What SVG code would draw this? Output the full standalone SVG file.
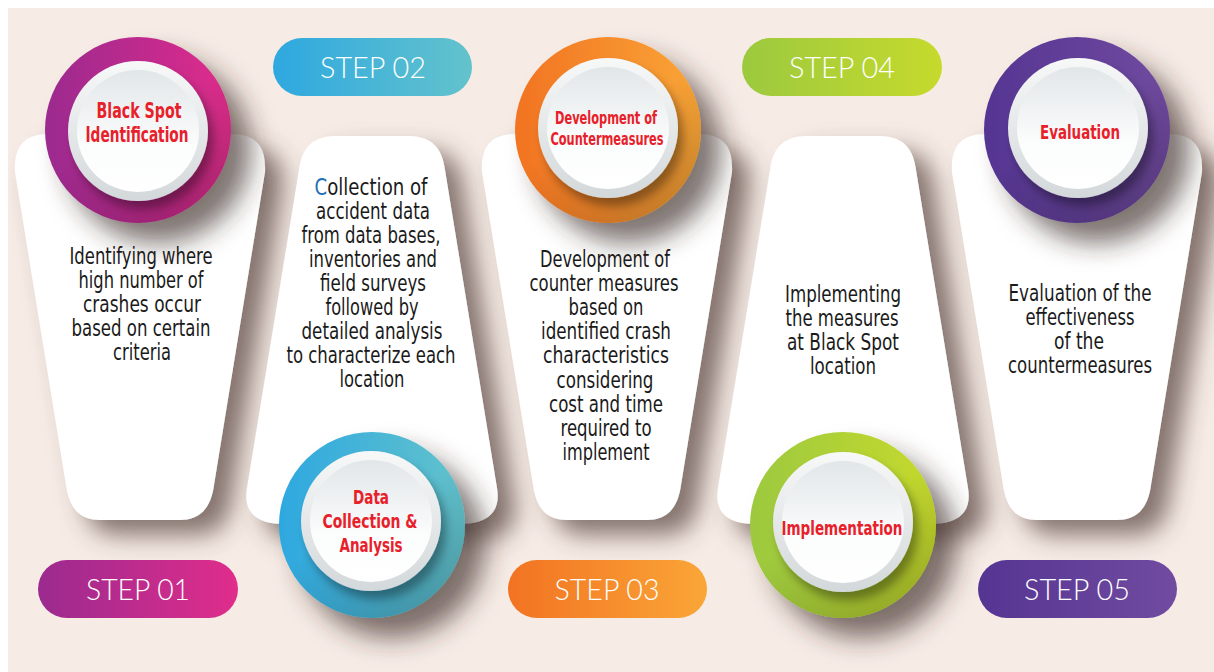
<svg xmlns="http://www.w3.org/2000/svg" width="1214" height="672" viewBox="0 0 1214 672">
<style>
.body{font-family:"Liberation Sans Narrow","DejaVu Sans Condensed","Liberation Sans",sans-serif;font-size:22.5px;fill:#1a1a1a;text-anchor:middle}
.lbl{font-family:"Liberation Sans Narrow","DejaVu Sans Condensed","Liberation Sans",sans-serif;font-weight:bold;fill:#e8202a;text-anchor:middle}
.step{font-family:Lato,"Open Sans","Liberation Sans",sans-serif;font-weight:300;font-size:30px;fill:#ffffff;text-anchor:middle}
.card{fill:#ffffff;filter:url(#cardShadow)}
.rim{fill:url(#rimG);filter:url(#discShadow)}
.disc{fill:url(#discG)}
.shade{fill:url(#shadeG)}
</style>
<defs>
<filter id="cardShadow" x="-30%" y="-20%" width="170%" height="150%">
<feGaussianBlur in="SourceAlpha" stdDeviation="12"/>
<feOffset dx="18" dy="15" result="b"/>
<feFlood flood-color="#54403b" flood-opacity="0.7"/>
<feComposite in2="b" operator="in"/>
<feMerge><feMergeNode/><feMergeNode in="SourceGraphic"/></feMerge>
</filter>
<filter id="ringShadow" x="-40%" y="-40%" width="190%" height="190%">
<feGaussianBlur in="SourceAlpha" stdDeviation="13"/>
<feOffset dx="20" dy="20" result="b"/>
<feFlood flood-color="#3a2a26" flood-opacity="0.65"/>
<feComposite in2="b" operator="in"/>
<feMerge><feMergeNode/><feMergeNode in="SourceGraphic"/></feMerge>
</filter>
<filter id="discShadow" x="-30%" y="-30%" width="170%" height="170%">
<feGaussianBlur in="SourceAlpha" stdDeviation="5"/>
<feOffset dx="5" dy="8" result="b"/>
<feFlood flood-color="#000000" flood-opacity="0.35"/>
<feComposite in2="b" operator="in"/>
<feMerge><feMergeNode/><feMergeNode in="SourceGraphic"/></feMerge>
</filter>
<linearGradient id="rimG" x1="0" y1="0" x2="0" y2="1">
<stop offset="0" stop-color="#f7f8f8"/><stop offset="1" stop-color="#d3d8da"/>
</linearGradient>
<linearGradient id="discG" x1="0" y1="0" x2="0" y2="1">
<stop offset="0" stop-color="#e1e6e8"/><stop offset="0.6" stop-color="#fbfcfc"/><stop offset="1" stop-color="#ffffff"/>
</linearGradient>
<linearGradient id="shadeG" x1="0.2" y1="0" x2="0.8" y2="1">
<stop offset="0.45" stop-color="#000" stop-opacity="0"/><stop offset="1" stop-color="#000" stop-opacity="0.22"/>
</linearGradient>
<linearGradient id="g1" x1="0" y1="0" x2="1" y2="0"><stop offset="0" stop-color="#9b2a8f"/><stop offset="1" stop-color="#e02d8b"/></linearGradient>
<linearGradient id="g2" x1="0" y1="0" x2="1" y2="0"><stop offset="0" stop-color="#2ea8e0"/><stop offset="1" stop-color="#63c3cc"/></linearGradient>
<linearGradient id="g3" x1="0" y1="0" x2="1" y2="0"><stop offset="0" stop-color="#f27322"/><stop offset="1" stop-color="#faa637"/></linearGradient>
<linearGradient id="g4" x1="0" y1="0" x2="1" y2="0"><stop offset="0" stop-color="#9cc93f"/><stop offset="1" stop-color="#c6da2c"/></linearGradient>
<linearGradient id="g5" x1="0" y1="0" x2="1" y2="0"><stop offset="0" stop-color="#553592"/><stop offset="1" stop-color="#714ba0"/></linearGradient>
</defs>

<rect width="1214" height="672" fill="#ffffff"/>
<rect x="8" y="8" width="1206" height="664" fill="#f6ebe5"/>

<!-- cards -->
<g id="card1"><path class="card" d="M50,134 L230,134 C258,134 266,148 265,172 L214,485 C211,508 200,520 180,520 L100,520 C80,520 69,508 66,485 L15,172 C14,148 22,134 50,134 Z"/></g>
<g id="card2"><path class="card" d="M337,136 L407,136 C430,136 442,146 445,170 L497,488 C501,512 488,524 460,524 L284,524 C256,524 243,512 247,488 L299,170 C302,146 314,136 337,136 Z"/></g>
<g id="card3"><path class="card" d="M517,134 L697,134 C725,134 733,148 732,172 L681,485 C678,508 667,520 647,520 L567,520 C547,520 536,508 533,485 L482,172 C481,148 489,134 517,134 Z"/></g>
<g id="card4"><path class="card" d="M808,136 L878,136 C901,136 913,146 916,170 L968,488 C972,512 959,524 931,524 L755,524 C727,524 714,512 718,488 L770,170 C773,146 785,136 808,136 Z"/></g>
<g id="card5"><path class="card" d="M987,134 L1167,134 C1195,134 1203,148 1202,172 L1151,485 C1148,508 1137,520 1117,520 L1037,520 C1017,520 1006,508 1003,485 L952,172 C951,148 959,134 987,134 Z"/></g>

<!-- card texts -->
<g id="text1" class="body">
<text x="141" y="264" textLength="143" lengthAdjust="spacingAndGlyphs">Identifying where</text>
<text x="141" y="288" textLength="125" lengthAdjust="spacingAndGlyphs">high number of</text>
<text x="142" y="312" textLength="118" lengthAdjust="spacingAndGlyphs">crashes occur</text>
<text x="141" y="336" textLength="139" lengthAdjust="spacingAndGlyphs">based on certain</text>
<text x="142" y="360" textLength="58" lengthAdjust="spacingAndGlyphs">criteria</text>
</g>
<g id="text2" class="body">
<text x="371" y="195" textLength="113" lengthAdjust="spacingAndGlyphs"><tspan fill="#1f6fb6">C</tspan>ollection of</text>
<text x="373" y="219" textLength="114" lengthAdjust="spacingAndGlyphs">accident data</text>
<text x="371" y="243" textLength="139" lengthAdjust="spacingAndGlyphs">from data bases,</text>
<text x="373" y="267" textLength="128" lengthAdjust="spacingAndGlyphs">inventories and</text>
<text x="373" y="291" textLength="106" lengthAdjust="spacingAndGlyphs">field surveys</text>
<text x="372" y="315" textLength="93" lengthAdjust="spacingAndGlyphs">followed by</text>
<text x="372" y="339" textLength="141" lengthAdjust="spacingAndGlyphs">detailed analysis</text>
<text x="371" y="363" textLength="169" lengthAdjust="spacingAndGlyphs">to characterize each</text>
<text x="372" y="387" textLength="65" lengthAdjust="spacingAndGlyphs">location</text>
</g>
<g id="text3" class="body">
<text x="605" y="267" textLength="130" lengthAdjust="spacingAndGlyphs">Development of</text>
<text x="604" y="291" textLength="149" lengthAdjust="spacingAndGlyphs">counter measures</text>
<text x="606" y="315" textLength="75" lengthAdjust="spacingAndGlyphs">based on</text>
<text x="606" y="339" textLength="130" lengthAdjust="spacingAndGlyphs">identified crash</text>
<text x="606" y="363" textLength="126" lengthAdjust="spacingAndGlyphs">characteristics</text>
<text x="605" y="388" textLength="97" lengthAdjust="spacingAndGlyphs">considering</text>
<text x="606" y="412" textLength="114" lengthAdjust="spacingAndGlyphs">cost and time</text>
<text x="606" y="436" textLength="91" lengthAdjust="spacingAndGlyphs">required to</text>
<text x="606" y="460" textLength="87" lengthAdjust="spacingAndGlyphs">implement</text>
</g>
<g id="text4" class="body">
<text x="843" y="302" textLength="116" lengthAdjust="spacingAndGlyphs">Implementing</text>
<text x="842" y="326" textLength="113" lengthAdjust="spacingAndGlyphs">the measures</text>
<text x="843" y="350" textLength="112" lengthAdjust="spacingAndGlyphs">at Black Spot</text>
<text x="843" y="374" textLength="66" lengthAdjust="spacingAndGlyphs">location</text>
</g>
<g id="text5" class="body">
<text x="1080" y="301" textLength="143" lengthAdjust="spacingAndGlyphs">Evaluation of the</text>
<text x="1080" y="325" textLength="109" lengthAdjust="spacingAndGlyphs">effectiveness</text>
<text x="1079" y="349" textLength="50" lengthAdjust="spacingAndGlyphs">of the</text>
<text x="1080" y="373" textLength="144" lengthAdjust="spacingAndGlyphs">countermeasures</text>
</g>

<!-- circles -->
<g id="circle1">
<circle cx="138" cy="130" r="93" fill="url(#g1)" filter="url(#ringShadow)"/>
<circle cx="138" cy="130" r="93" class="shade"/>
<circle cx="138" cy="131" r="70" class="rim"/>
<circle cx="138" cy="131" r="61" class="disc"/>
<text class="lbl" x="139" y="118" font-size="20.5" textLength="85" lengthAdjust="spacingAndGlyphs">Black Spot</text>
<text class="lbl" x="137" y="142" font-size="20.5" textLength="103" lengthAdjust="spacingAndGlyphs">Identification</text>
</g>
<g id="circle2">
<circle cx="372" cy="525" r="93" fill="url(#g2)" filter="url(#ringShadow)"/>
<circle cx="372" cy="525" r="93" class="shade"/>
<circle cx="371" cy="521" r="70" class="rim"/>
<circle cx="371" cy="521" r="61" class="disc"/>
<text class="lbl" x="371" y="504" font-size="19.5" textLength="36" lengthAdjust="spacingAndGlyphs">Data</text>
<text class="lbl" x="370" y="528" font-size="19.5" textLength="95" lengthAdjust="spacingAndGlyphs">Collection &amp;</text>
<text class="lbl" x="371" y="552" font-size="19.5" textLength="63" lengthAdjust="spacingAndGlyphs">Analysis</text>
</g>
<g id="circle3">
<circle cx="608" cy="130" r="93" fill="url(#g3)" filter="url(#ringShadow)"/>
<circle cx="608" cy="130" r="93" class="shade"/>
<circle cx="608" cy="128" r="70" class="rim"/>
<circle cx="608" cy="128" r="61" class="disc"/>
<text class="lbl" x="606" y="124" font-size="17.5" textLength="102" lengthAdjust="spacingAndGlyphs">Development of</text>
<text class="lbl" x="607" y="145" font-size="17.5" textLength="113" lengthAdjust="spacingAndGlyphs">Countermeasures</text>
</g>
<g id="circle4">
<circle cx="843" cy="525" r="93" fill="url(#g4)" filter="url(#ringShadow)"/>
<circle cx="843" cy="525" r="93" class="shade"/>
<circle cx="843" cy="522" r="70" class="rim"/>
<circle cx="843" cy="522" r="61" class="disc"/>
<text class="lbl" x="842" y="535" font-size="20" textLength="121" lengthAdjust="spacingAndGlyphs">Implementation</text>
</g>
<g id="circle5">
<circle cx="1077" cy="130" r="93" fill="url(#g5)" filter="url(#ringShadow)"/>
<circle cx="1077" cy="130" r="93" class="shade"/>
<circle cx="1078" cy="128" r="70" class="rim"/>
<circle cx="1078" cy="128" r="61" class="disc"/>
<text class="lbl" x="1080" y="139" font-size="20" textLength="80" lengthAdjust="spacingAndGlyphs">Evaluation</text>
</g>

<!-- step pills -->
<g id="step1"><rect x="38" y="560" width="200" height="58" rx="29" fill="url(#g1)"/><text class="step" x="138" y="600" textLength="104" lengthAdjust="spacingAndGlyphs">STEP 01</text></g>
<g id="step2"><rect x="273" y="38" width="199" height="58" rx="29" fill="url(#g2)"/><text class="step" x="373" y="78" textLength="106" lengthAdjust="spacingAndGlyphs">STEP 02</text></g>
<g id="step3"><rect x="508" y="560" width="199" height="58" rx="29" fill="url(#g3)"/><text class="step" x="607" y="600" textLength="105" lengthAdjust="spacingAndGlyphs">STEP 03</text></g>
<g id="step4"><rect x="742" y="38" width="200" height="58" rx="29" fill="url(#g4)"/><text class="step" x="842" y="78" textLength="106" lengthAdjust="spacingAndGlyphs">STEP 04</text></g>
<g id="step5"><rect x="978" y="560" width="199" height="58" rx="29" fill="url(#g5)"/><text class="step" x="1077" y="600" textLength="106" lengthAdjust="spacingAndGlyphs">STEP 05</text></g>

<g id="connectors"></g>
</svg>
